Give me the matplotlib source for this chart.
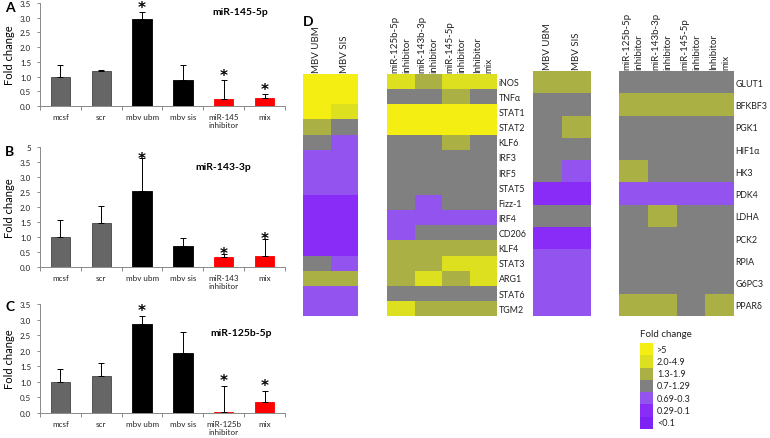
import numpy as np
import matplotlib
matplotlib.use('Agg')
import matplotlib.pyplot as plt
from matplotlib.colors import ListedColormap, BoundaryNorm

plt.rcParams['font.family'] = ['Lato', 'DejaVu Sans']

### ------------------- Data -------------------

bar_colors = ['#666666', '#666666', '#000000', '#000000', '#ff0000', '#ff0000']
bar_edges = ['#444444', '#444444', '#000000', '#000000', '#ff0000', '#ff0000']

a_labels = ['mcsf', 'scr', 'mbv ubm', 'mbv sis', 'miR-145\ninhibitor', 'mix']
a_vals = [1.00, 1.19, 2.97, 0.90, 0.25, 0.27]
a_errtop = [1.38, 1.23, 3.19, 1.40, 0.87, 0.40]
a_star = [0, 0, 1, 0, 1, 1]

b_labels = ['mcsf', 'scr', 'mbv ubm', 'mbv sis', 'miR-143\ninhibitor', 'mix']
b_vals = [1.00, 1.48, 2.55, 0.70, 0.32, 0.36]
b_errtop = [1.57, 2.05, 3.62, 0.97, 0.44, 0.95]
b_star = [0, 0, 1, 0, 1, 1]

c_labels = ['mcsf', 'scr', 'mbv ubm', 'mbv sis', 'miR-125b\ninhibitor', 'mix']
c_vals = [1.00, 1.20, 2.87, 1.93, 0.03, 0.35]
c_errtop = [1.42, 1.60, 3.10, 2.60, 0.87, 0.70]
c_star = [0, 0, 1, 0, 1, 1]

# heatmap categories: 0 >5, 1 2.0-4.9, 2 1.3-1.9, 3 0.7-1.29, 4 0.69-0.3, 5 0.29-0.1, 6 <0.1
legend_labels = ['>5', '2.0-4.9', '1.3-1.9', '0.7-1.29', '0.69-0.3', '0.29-0.1', '<0.1']
legend_colors = ['#f4ee12', '#dce01e', '#aab044', '#808080', '#9353ee', '#8a2cf8', '#7d22f2']

mbv_cols = ['MBV UBM', 'MBV SIS']
inh_cols = ['miR-125b-5p\ninhibitor', 'miR-143b-3p\ninhibitor', 'miR-145-5p\ninhibitor', 'Inhibitor\nmix']

genes_left = ['iNOS', 'TNF\u03b1', 'STAT1', 'STAT2', 'KLF6', 'IRF3', 'IRF5', 'STAT5',
              'Fizz-1', 'IRF4', 'CD206', 'KLF4', 'STAT3', 'ARG1', 'STAT6', 'TGM2']
mbv_left = [[0, 0], [0, 0], [0, 1], [2, 3], [3, 4], [4, 4], [4, 4], [4, 4],
            [5, 5], [5, 5], [5, 5], [5, 5], [3, 4], [2, 2], [4, 4], [4, 4]]
inh_left = [[1, 2, 1, 1], [3, 3, 2, 3], [0, 0, 0, 0], [0, 0, 0, 0],
            [3, 3, 2, 3], [3, 3, 3, 3], [3, 3, 3, 3], [3, 3, 3, 3],
            [3, 4, 3, 3], [4, 4, 4, 4], [4, 3, 3, 3], [2, 2, 2, 2],
            [2, 2, 1, 1], [2, 1, 2, 1], [3, 3, 3, 3], [1, 2, 2, 2]]

genes_right = ['GLUT1', 'BFKBF3', 'PGK1', 'HIF1\u03b1', 'HK3', 'PDK4', 'LDHA',
               'PCK2', 'RPIA', 'G6PC3', 'PPAR\u03b4']
mbv_right = [[2, 2], [3, 3], [3, 2], [3, 3], [3, 4], [5, 5], [3, 3],
             [5, 5], [4, 4], [4, 4], [4, 4]]
inh_right = [[3, 3, 3, 3], [2, 2, 2, 2], [3, 3, 3, 3], [3, 3, 3, 3],
             [2, 3, 3, 3], [4, 4, 4, 4], [3, 2, 3, 3], [3, 3, 3, 3],
             [3, 3, 3, 3], [3, 3, 3, 3], [2, 2, 3, 2]]

### ------------------- Script -------------------

W, H = 770, 439
fig = plt.figure(figsize=(W / 100, H / 100), dpi=100)


def px_axes(left, top, right, bottom):
    """Axes from pixel box (origin top-left)."""
    return fig.add_axes([left / W, 1 - bottom / H, (right - left) / W, (bottom - top) / H])


def plot_bar_panel(ax, labels, vals, errtop, stars, ymax, title, title_xy, star_off, yticklabels=None):
    x = np.arange(len(vals))
    vals = np.array(vals)
    errtop = np.array(errtop)
    ax.bar(x, vals, width=0.47, color=bar_colors, edgecolor=bar_edges, linewidth=0.6, zorder=2)
    ax.errorbar(x, vals, yerr=[np.zeros(len(vals)), errtop - vals], fmt='none',
                ecolor='black', elinewidth=0.7, capsize=2, capthick=0.7, zorder=3)
    for xi, top, s in zip(x, errtop, stars):
        if s:
            ax.text(xi, top + star_off, '*', ha='center', va='center', fontsize=11,
                    fontweight='bold', family='DejaVu Sans')
    ax.set_xlim(-0.5, len(vals) - 0.5)
    ax.set_ylim(0, ymax)
    ticks = np.arange(0, ymax + 0.01, 0.5)
    ax.set_yticks(ticks)
    if yticklabels is None:
        yticklabels = ['%.1f' % t for t in ticks]
    ax.set_yticklabels(yticklabels, fontsize=5.8, color='#222222')
    for s in ['top', 'right']:
        ax.spines[s].set_visible(False)
    for s in ['left', 'bottom']:
        ax.spines[s].set_color('#8a8a8a')
        ax.spines[s].set_linewidth(0.7)
    ax.set_xticks(np.arange(-0.5, len(vals), 1))
    ax.set_xticklabels([])
    ax.set_xticks(x, minor=True)
    ax.set_xticklabels(labels, minor=True, fontsize=5.8, color='#222222')
    ax.tick_params(axis='x', which='minor', length=0, pad=5)
    ax.tick_params(axis='x', which='major', length=3, color='#8a8a8a', width=0.7)
    ax.tick_params(axis='y', length=2.5, color='#8a8a8a', width=0.7, pad=4)
    ax.set_ylabel('Fold change', fontsize=8)
    ax.yaxis.set_label_coords(-0.1, 0.5)
    ax.text(title_xy[0], title_xy[1], title, transform=ax.transAxes, ha='center', va='center',
            fontsize=7.5, fontweight='bold')


axA = px_axes(40, 4, 285, 107)
plot_bar_panel(axA, a_labels, a_vals, a_errtop, a_star, 3.5, 'miR-145-5p', (0.816, 0.92), 0.17)
axB = px_axes(40, 148, 285, 268)
plot_bar_panel(axB, b_labels, b_vals, b_errtop, b_star, 4.0, 'miR-143-3p', (0.75, 0.84), 0.0,
               yticklabels=['0.0', '0.5', '1.0', '1.5', '2.0', '2.5', '3.0', '3.5', '5'])
axC = px_axes(40, 305, 285, 414)
plot_bar_panel(axC, c_labels, c_vals, c_errtop, c_star, 3.5, 'miR-125b-5p', (0.82, 0.74), 0.18)

for lbl, (xp, yp) in zip('ABC', [(5, 8), (5, 152), (5, 307)]):
    fig.text(xp / W, 1 - yp / H, lbl, fontsize=10, fontweight='bold', va='center', ha='left')

cmap = ListedColormap(legend_colors)
norm = BoundaryNorm(np.arange(-0.5, 7, 1), cmap.N)


def plot_heat(ax, data, cols, genes=None):
    data = np.array(data)
    nr, nc = data.shape
    ax.pcolormesh(np.arange(nc + 1), np.arange(nr + 1), data, cmap=cmap, norm=norm)
    ax.set_xlim(0, nc)
    ax.set_ylim(nr, 0)
    ax.axis('off')
    for j, c in enumerate(cols):
        ax.text(j + 0.5, -0.12 * nr / 16, c, rotation=90, ha='center', va='bottom',
                multialignment='left', linespacing=1.45, fontsize=7, color='#222222',
                clip_on=False)
    if genes is not None:
        for i, g in enumerate(genes):
            ax.text(nc + 0.06, i + 0.55, g, ha='left', va='center', fontsize=6.4,
                    color='#222222', clip_on=False)


plot_heat(px_axes(303, 75, 358, 317), mbv_left, mbv_cols)
plot_heat(px_axes(387, 75, 497, 317), inh_left, inh_cols, genes_left)
plot_heat(px_axes(533, 72, 591, 317), mbv_right, mbv_cols)
plot_heat(px_axes(619, 72, 734, 317), inh_right, inh_cols, genes_right)

fig.text(303 / W, 1 - 22 / H, 'D', fontsize=10, fontweight='bold', va='center', ha='left')

# legend
axL = px_axes(640, 344, 653, 430)
axL.pcolormesh([0, 1], np.arange(8), np.arange(7).reshape(7, 1), cmap=cmap, norm=norm)
axL.set_xlim(0, 1)
axL.set_ylim(7, 0)
axL.axis('off')
for i, t in enumerate(legend_labels):
    axL.text(1.3, i + 0.5, t, ha='left', va='center', fontsize=6.5, color='#222222', clip_on=False)
fig.text(640 / W, 1 - 335 / H, 'Fold change', fontsize=7, ha='left', va='center', color='#222222')

plt.savefig('out.png', dpi=100)
